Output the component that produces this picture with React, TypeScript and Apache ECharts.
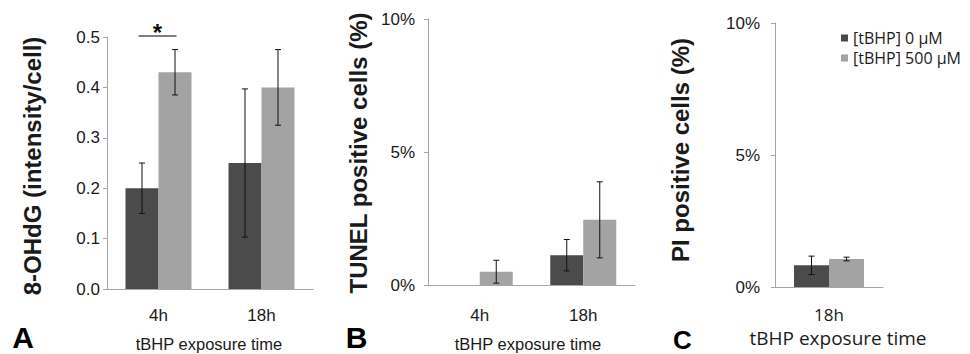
import React, { useEffect, useRef } from "react";
import * as echarts from "echarts";

// ---- data ----
const seriesNames = ["[tBHP] 0 μM", "[tBHP] 500 μM"];
const catsAB = ["4h", "18h"];
const catsC = ["18h"];

const ohdgDark = [0.2, 0.25];
const ohdgDarkErr = [0.05, 0.147];
const ohdgLight = [0.43, 0.4];
const ohdgLightErr = [0.045, 0.075];

const tunelDark = [0, 1.12];
const tunelDarkErr = [0, 0.59];
const tunelLight = [0.5, 2.45];
const tunelLightErr = [0.43, 1.43];

const piDark = [0.82];
const piDarkErr = [0.35];
const piLight = [1.06];
const piLightErr = [0.07];

const ticksA = [0, 0.1, 0.2, 0.3, 0.4, 0.5];
const ticksPct = [0, 5, 10];

const sigCategory = 0;
const sigLevel = 0.5;

const DARK = "#4b4b4b";
const LIGHT = "#a3a3a3";
const AXIS = "#a6a6a6";
const TXT = "#1a1a1a";
const ARIAL = "'Liberation Sans', Arial, sans-serif";
const OPEN = "'Open Sans', 'Noto Sans', sans-serif";

function errData(vals: number[], errs: number[]) {
  return vals.map((v, i) => [i, v - errs[i], v + errs[i], errs[i]]);
}

function errSeries(idx: number, vals: number[], errs: number[], side: number, bw: number) {
  return {
    type: "custom",
    xAxisIndex: idx,
    yAxisIndex: idx,
    silent: true,
    z: 5,
    encode: { x: 0, y: [1, 2] },
    data: errData(vals, errs),
    renderItem: (params: any, api: any) => {
      if (api.value(3) <= 0) return null;
      const cat = api.value(0);
      const top = api.coord([cat, api.value(2)]);
      const bot = api.coord([cat, api.value(1)]);
      const x = top[0] + (side * bw) / 2;
      const cap = 3;
      const style = { stroke: "#111", lineWidth: 1 };
      return {
        type: "group",
        children: [
          { type: "line", shape: { x1: x, y1: top[1], x2: x, y2: bot[1] }, style },
          { type: "line", shape: { x1: x - cap, y1: top[1], x2: x + cap, y2: top[1] }, style },
          { type: "line", shape: { x1: x - cap, y1: bot[1], x2: x + cap, y2: bot[1] }, style },
        ],
      };
    },
  };
}

function barSeries(idx: number, name: string, vals: number[], color: string, bw: number) {
  return {
    type: "bar",
    name,
    xAxisIndex: idx,
    yAxisIndex: idx,
    data: vals,
    barWidth: bw,
    barGap: "0%",
    itemStyle: { color },
  };
}

export default function App() {
  const ref = useRef<HTMLDivElement>(null);
  useEffect(() => {
    if (!ref.current) return;
    const chart = echarts.init(ref.current, undefined, { renderer: "svg" });
    const bwA = 33;
    const bwB = 33;
    const bwC = 35;

    const xAxisBase = (gridIndex: number, data: string[], margin: number, font: string) => ({
      type: "category",
      gridIndex,
      data,
      axisLine: { lineStyle: { color: AXIS, width: 1 } },
      axisTick: { show: false },
      axisLabel: { color: TXT, fontSize: 17, fontFamily: font, margin },
    });
    const yAxisBase = (gridIndex: number, max: number, interval: number, margin: number, fmt: (v: number) => string) => ({
      type: "value",
      gridIndex,
      min: 0,
      max,
      interval,
      splitLine: { show: false },
      axisLine: { show: true, lineStyle: { color: AXIS, width: 1 } },
      axisTick: { show: true, length: 4, lineStyle: { color: AXIS } },
      axisLabel: { color: TXT, fontSize: 17, fontFamily: ARIAL, margin, formatter: fmt },
    });

    const letter = (text: string, x: number, y: number, size: number) => ({
      type: "text",
      x,
      y,
      style: {
        text,
        fontSize: size,
        fontWeight: "bold",
        fontFamily: ARIAL,
        fill: "#000",
        align: "center",
        verticalAlign: "middle",
      },
    });

    const option: any = {
      animation: false,
      backgroundColor: "#ffffff",
      legend: {
        orient: "vertical",
        left: 836,
        top: 25,
        itemWidth: 7,
        itemHeight: 7,
        itemGap: 4,
        icon: "rect",
        data: seriesNames,
        textStyle: { fontFamily: OPEN, fontSize: 16, color: TXT, lineHeight: 16 },
      },
      grid: [
        { left: 107, top: 37, width: 206, height: 252 },
        { left: 428, top: 19, width: 207, height: 266 },
        { left: 775, top: 23, width: 108, height: 264 },
      ],
      xAxis: [
        xAxisBase(0, catsAB, 18, ARIAL),
        xAxisBase(1, catsAB, 22, ARIAL),
        xAxisBase(2, catsC, 19, OPEN),
      ],
      yAxis: [
        yAxisBase(0, ticksA[ticksA.length - 1], ticksA[1] - ticksA[0], 7, (v: number) => v.toFixed(1)),
        yAxisBase(1, ticksPct[ticksPct.length - 1], ticksPct[1] - ticksPct[0], 13, (v: number) => v + "%"),
        yAxisBase(2, ticksPct[ticksPct.length - 1], ticksPct[1] - ticksPct[0], 15, (v: number) => v + "%"),
      ],
      series: [
        barSeries(0, seriesNames[0], ohdgDark, DARK, bwA),
        barSeries(0, seriesNames[1], ohdgLight, LIGHT, bwA),
        barSeries(1, seriesNames[0], tunelDark, DARK, bwB),
        barSeries(1, seriesNames[1], tunelLight, LIGHT, bwB),
        barSeries(2, seriesNames[0], piDark, DARK, bwC),
        barSeries(2, seriesNames[1], piLight, LIGHT, bwC),
        errSeries(0, ohdgDark, ohdgDarkErr, -1, bwA),
        errSeries(0, ohdgLight, ohdgLightErr, 1, bwA),
        errSeries(1, tunelDark, tunelDarkErr, -1, bwB),
        errSeries(1, tunelLight, tunelLightErr, 1, bwB),
        errSeries(2, piDark, piDarkErr, -1, bwC),
        errSeries(2, piLight, piLightErr, 1, bwC),
        {
          type: "custom",
          xAxisIndex: 0,
          yAxisIndex: 0,
          silent: true,
          z: 6,
          data: [[sigCategory, sigLevel]],
          encode: { x: 0, y: 1 },
          renderItem: (params: any, api: any) => {
            const p = api.coord([api.value(0), api.value(1)]);
            const half = 19;
            const y = p[1] - 1;
            return {
              type: "group",
              children: [
                {
                  type: "line",
                  shape: { x1: p[0] - half - 1, y1: y, x2: p[0] + half - 1, y2: y },
                  style: { stroke: "#555", lineWidth: 1.5 },
                },
                {
                  type: "text",
                  style: {
                    x: p[0] - 1,
                    y: y + 8,
                    text: "*",
                    fontSize: 24,
                    fontWeight: "bold",
                    fontFamily: ARIAL,
                    fill: "#111",
                    align: "center",
                    verticalAlign: "bottom",
                  },
                },
              ],
            };
          },
        },
      ],
      graphic: [
        {
          type: "text",
          x: 32,
          y: 166,
          rotation: Math.PI / 2,
          style: {
            text: "8-OHdG (intensity/cell)",
            fontSize: 24,
            fontWeight: "bold",
            fontFamily: ARIAL,
            fill: TXT,
            align: "center",
            verticalAlign: "middle",
          },
        },
        {
          type: "text",
          x: 358,
          y: 153,
          rotation: Math.PI / 2,
          style: {
            text: "TUNEL positive cells (%)",
            fontSize: 24,
            fontWeight: "bold",
            fontFamily: ARIAL,
            fill: TXT,
            align: "center",
            verticalAlign: "middle",
          },
        },
        {
          type: "text",
          x: 680,
          y: 150,
          rotation: Math.PI / 2,
          style: {
            text: "PI positive cells (%)",
            fontSize: 24,
            fontWeight: "bold",
            fontFamily: ARIAL,
            fill: TXT,
            align: "center",
            verticalAlign: "middle",
          },
        },
        {
          type: "text",
          x: 209,
          y: 344,
          style: { text: "tBHP exposure time", fontSize: 16.5, fontFamily: ARIAL, fill: TXT, align: "center", verticalAlign: "middle" },
        },
        {
          type: "text",
          x: 528,
          y: 344,
          style: { text: "tBHP exposure time", fontSize: 16.5, fontFamily: ARIAL, fill: TXT, align: "center", verticalAlign: "middle" },
        },
        {
          type: "text",
          x: 838,
          y: 338,
          style: { text: "tBHP exposure time", fontSize: 19, fontFamily: OPEN, fill: TXT, align: "center", verticalAlign: "middle" },
        },
        letter("A", 23, 337, 30),
        letter("B", 356.5, 337, 30),
        letter("C", 682.5, 340, 26),
      ],
    };
    chart.setOption(option);
    return () => chart.dispose();
  }, []);
  return <div ref={ref} style={{ width: 970, height: 354, position: "absolute", left: 0, top: 0 }} />;
}
